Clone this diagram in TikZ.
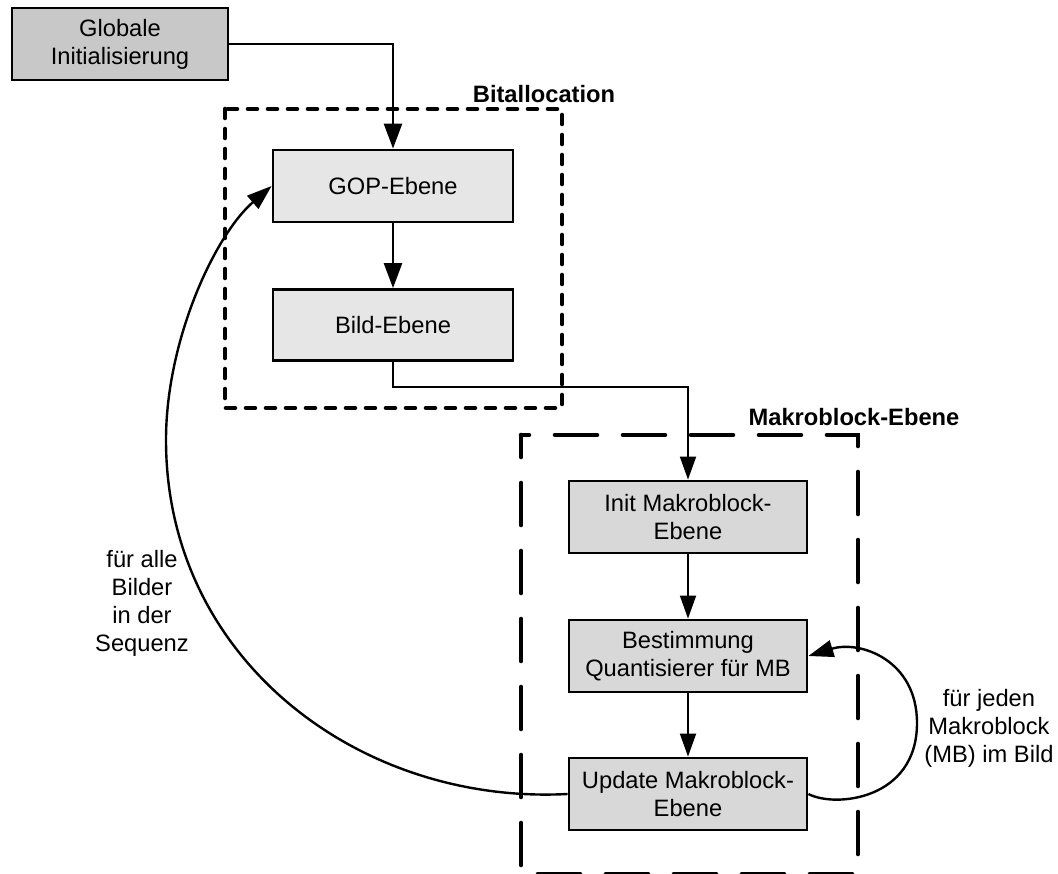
\documentclass[tikz,border=0pt]{standalone}
\usepackage{fontspec}
\setmainfont{Liberation Sans}
\usetikzlibrary{arrows.meta}
\definecolor{gA}{RGB}{200,200,200}
\definecolor{gB}{RGB}{230,230,230}
\definecolor{gC}{RGB}{216,216,216}
\begin{document}
\begin{tikzpicture}[x=1pt,y=-1pt,
  box/.style={draw, line width=2.8pt, inner sep=0pt, align=center,
    font=\fontsize{23.7}{28}\selectfont, minimum height=72pt},
  lbl/.style={inner sep=0pt, align=center, font=\fontsize{23.7}{28}\selectfont},
  blbl/.style={inner sep=0pt, align=center, font=\fontsize{23.7}{28}\selectfont\bfseries},
  thickconn/.style={line width=2.6pt, -{Triangle[length=25pt,width=18pt]}},
  thinconn/.style={line width=1.8pt, -{Triangle[length=23pt,width=16pt]}},
  curveconn/.style={line width=2.4pt, -{Triangle[length=25pt,width=17pt]}},
  dashA/.style={line width=4.6pt, line cap=round, line join=miter, dash pattern=on 9pt off 11pt},
  dashB/.style={line width=4.6pt, line cap=round, line join=miter, dash pattern=on 42pt off 26pt, dash phase=20pt}
]
\useasboundingbox (0,0) rectangle (1058,874);
\clip (0,0) rectangle (1058,874);

% boxes
\node[box, fill=gA, minimum width=216pt] (glob) at (120,44) {Globale\\Initialisierung};
\node[box, fill=gB, minimum width=240pt] (gop) at (393,186) {GOP-Ebene};
\node[box, fill=gB, minimum width=240pt, minimum height=71pt] (bild) at (393,325) {Bild-Ebene};
\node[box, fill=gC, minimum width=238pt] (init) at (688,517) {Init Makroblock-\\Ebene};
\node[box, fill=gC, minimum width=238pt] (best) at (688,656) {Bestimmung\\Quantisierer für MB};
\node[box, fill=gC, minimum width=238pt] (upd) at (688,794) {Update Makroblock-\\Ebene};

% group titles
\node[blbl] (balloc) at (544,94) {Bitallocation};
\node[blbl] (mbe) at (854,417) {Makroblock-Ebene};

% labels
\node[lbl] (l1) at (142,603) {für alle\\Bilder\\in der\\Sequenz};
\node[lbl] (l2) at (989,728) {für jeden\\Makroblock\\(MB) im Bild};

% connectors
\coordinate (k) at (393,387);
\coordinate (ll) at (166,440);
\coordinate (rl) at (917,723);
\draw[thickconn] (glob.east) -| (gop.north);
\draw[thickconn] (gop) -- (bild);
\draw[thinconn] (bild.south) -- (k) -| (init.north);
\draw[thinconn] (init) -- (best);
\draw[thinconn] (best) -- (upd);
\draw[curveconn] (upd.east) .. controls (835,808) and (917,800) .. (rl)
  .. controls (917,660) and (860,640) .. (best.east);
\draw[curveconn] (upd.west) .. controls (360,805) and (166,660) .. (ll)
  .. controls (166,340) and (215,235) .. (gop.west);

% dashed frames
\draw[dashA] (225,109) rectangle (562,408);
\draw[dashB] (521,435) rectangle (858,874);
\end{tikzpicture}
\end{document}
